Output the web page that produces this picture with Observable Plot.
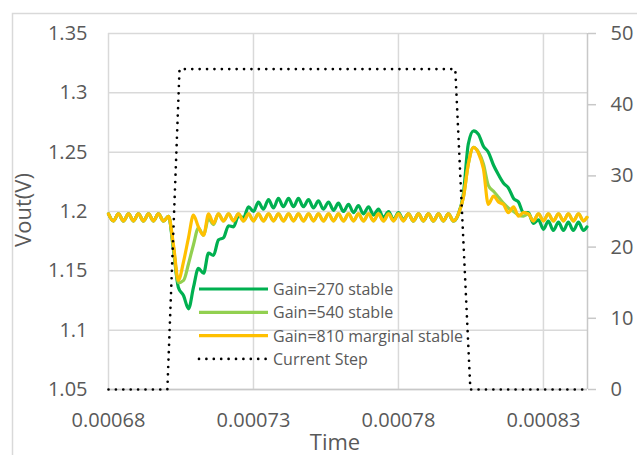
<!DOCTYPE html>
<html><head><meta charset="utf-8">
<script src="https://cdn.jsdelivr.net/npm/d3@7"></script>
<script src="https://cdn.jsdelivr.net/npm/@observablehq/plot@0.6"></script>
<style>
html,body{margin:0;padding:0;background:#fff;}
#chart{position:relative;width:637px;height:455px;overflow:hidden;}
</style></head><body><div id="chart"></div>
<script>
// time samples in microseconds
const timeUs = [680.0,681.7,683.4,685.2,686.9,688.6,690.3,692.1,693.8,695.5,697.2,699.0,700.7,702.4,704.1,705.9,707.6,709.3,711.0,712.8,
714.5,716.2,717.9,719.7,721.4,723.1,724.8,726.6,728.3,730.0,731.7,733.4,735.2,736.9,738.6,740.3,742.1,743.8,745.5,747.2,
749.0,750.7,752.4,754.1,755.9,757.6,759.3,761.0,762.8,764.5,766.2,767.9,769.7,771.4,773.1,774.8,776.6,778.3,780.0,781.7,
783.4,785.2,786.9,788.6,790.3,792.1,793.8,795.5,797.2,799.0,800.7,802.4,804.1,805.9,807.6,809.3,811.0,812.8,814.5,816.2,
817.9,819.7,821.4,823.1,824.8,826.5,828.3,830.0,831.7,833.4,835.2,836.9,838.6,840.3,842.1,843.8,845.0];

const vGain270 = [1.198,1.192,1.198,1.192,1.198,1.192,1.198,1.192,1.198,1.192,1.198,1.192,
1.196,1.168,1.136,1.129,1.118,1.136,1.152,1.148,1.165,1.163,1.176,1.178,1.188,1.187,1.196,1.195,1.204,1.200,
1.208,1.202,1.210,1.203,1.211,1.204,1.211,1.204,1.211,1.204,1.210,1.203,1.209,1.202,1.208,1.201,1.207,1.200,
1.206,1.199,1.205,1.198,1.204,1.197,1.202,1.195,1.200,1.193,1.199,1.193,
1.198,1.192,1.198,1.192,1.198,1.192,1.198,1.192,1.198,1.192,
1.198,1.215,1.257,1.268,1.265,1.255,1.250,1.239,1.231,1.224,1.220,1.211,1.208,1.199,1.199,1.190,
1.193,1.185,1.192,1.184,1.191,1.184,1.191,1.184,1.191,1.184,1.187];

const vGain540 = [1.198,1.192,1.198,1.192,1.198,1.192,1.198,1.192,1.198,1.192,1.198,1.192,
1.196,1.170,1.140,1.142,1.156,1.172,1.186,1.180,1.194,1.189,
1.198,1.192,1.198,1.192,1.198,1.192,1.198,1.192,1.198,1.192,1.198,1.192,1.198,1.192,1.198,1.192,
1.198,1.192,1.198,1.192,1.198,1.192,1.198,1.192,1.198,1.192,1.198,1.192,1.198,1.192,1.198,1.192,
1.198,1.192,1.198,1.192,1.198,1.192,1.198,1.192,1.198,1.192,1.198,1.192,1.198,1.192,1.198,1.192,
1.198,1.212,1.240,1.254,1.250,1.240,1.222,1.217,1.212,1.207,1.203,1.200,1.197,1.196,1.198,1.192,
1.198,1.192,1.198,1.192,1.198,1.192,1.198,1.192,1.198,1.192,1.195];

const vGain810 = [1.198,1.192,1.198,1.192,1.198,1.192,1.198,1.192,1.198,1.192,1.198,1.192,
1.196,1.172,1.142,1.158,1.178,1.197,1.187,1.180,1.198,1.190,
1.198,1.192,1.198,1.192,1.198,1.192,1.198,1.192,1.198,1.192,1.198,1.192,1.198,1.192,1.198,1.192,
1.198,1.192,1.198,1.192,1.198,1.192,1.198,1.192,1.198,1.192,1.198,1.192,1.198,1.192,1.198,1.192,
1.198,1.192,1.198,1.192,1.198,1.192,1.198,1.192,1.198,1.192,1.198,1.192,1.198,1.192,1.198,1.192,
1.198,1.212,1.240,1.254,1.249,1.236,1.206,1.213,1.208,1.206,1.199,1.204,1.196,1.199,1.198,1.192,
1.198,1.192,1.198,1.192,1.198,1.192,1.198,1.192,1.198,1.192,1.195];

const stepTimeUs = [680.0, 700.3, 704.5, 799.6, 804.8, 845.2];
const stepAmps = [0, 0, 45, 45, 0, 0];

const seriesNames = ["Gain=270 stable", "Gain=540 stable", "Gain=810 marginal stable", "Current Step"];
const seriesColors = ["#00B050", "#92D050", "#FFC000", "#000000"];

const xTicks = [0.00068, 0.00073, 0.00078, 0.00083];
const yTicks = [1.05, 1.1, 1.15, 1.2, 1.25, 1.3, 1.35];
const y2Ticks = [0, 10, 20, 30, 40, 50];
const xDomain = [0.00068, 0.0008452];
const yDomain = [1.05, 1.35];
const y2Domain = [0, 50];

const toY = d3.scaleLinear(y2Domain, yDomain);
const mk = vals => timeUs.map((t, i) => ({t: t * 1e-6, v: vals[i]}));
const stepData = stepTimeUs.map((t, i) => ({t: t * 1e-6, v: toY(stepAmps[i])}));
const gridStyle = {stroke: "#d9d9d9", strokeOpacity: 1, strokeWidth: 1.5};

const plot = Plot.plot({
  width: 637, height: 455,
  marginLeft: 108, marginRight: 50, marginTop: 33, marginBottom: 66,
  style: {fontFamily: "'Open Sans', sans-serif", fontSize: "20px", color: "#595959", background: "#fff"},
  x: {domain: xDomain},
  y: {domain: yDomain},
  marks: [
    Plot.gridY(yTicks, gridStyle),
    Plot.gridX(xTicks, gridStyle),
    Plot.ruleY([yDomain[0]], {stroke: "#c8c8c8", strokeWidth: 1.5}),
    Plot.ruleX([xDomain[1]], {stroke: "#c8c8c8", strokeWidth: 1.5}),
    Plot.axisY(yTicks, {anchor: "left", tickSize: 0, tickPadding: 21, label: null, tickFormat: d => String(+d.toFixed(2))}),
    Plot.axisY(y2Ticks.map(toY), {anchor: "right", tickSize: 8, tickPadding: 15, stroke: "#c8c8c8", strokeWidth: 1.5, label: null, tickFormat: d => String(Math.round(toY.invert(d)))}),
    Plot.axisX(xTicks, {anchor: "bottom", tickSize: 0, tickPadding: 23, label: null, tickFormat: d => d.toFixed(5)}),
    Plot.line(mk(vGain270), {x: "t", y: "v", stroke: seriesColors[0], strokeWidth: 3.2, curve: "monotone-x"}),
    Plot.line(mk(vGain540), {x: "t", y: "v", stroke: seriesColors[1], strokeWidth: 3.2, curve: "monotone-x"}),
    Plot.line(mk(vGain810), {x: "t", y: "v", stroke: seriesColors[2], strokeWidth: 3.2, curve: "monotone-x"}),
    Plot.line(stepData, {x: "t", y: "v", stroke: seriesColors[3], strokeWidth: 2.7, strokeDasharray: "0,7.4", strokeLinecap: "round"})
  ]
});

const svg = d3.select(plot);
// chart border
svg.append("path").attr("d", "M12.5,455V13.5H637").attr("fill", "none").attr("stroke", "#d9d9d9").attr("stroke-width", 1.5);
// axis titles
svg.append("text").text("Vout(V)").attr("transform", "translate(22,210) rotate(-90)")
  .attr("text-anchor", "middle").attr("dominant-baseline", "central").attr("font-size", 22).attr("fill", "#595959");
svg.append("text").text("Time").attr("x", 335).attr("y", 441)
  .attr("text-anchor", "middle").attr("dominant-baseline", "central").attr("font-size", 22).attr("fill", "#595959");
// legend
const lg = svg.append("g").attr("font-size", 16).attr("fill", "#595959").attr("text-anchor", "start");
seriesNames.forEach((name, i) => {
  const yy = 289 + i * 23.3;
  const ln = lg.append("line").attr("x1", 199).attr("x2", 268).attr("y1", yy).attr("y2", yy)
    .attr("stroke", seriesColors[i]).attr("stroke-width", i === 3 ? 2.7 : 3.2);
  if (i === 3) ln.attr("stroke-dasharray", "0,7.4").attr("stroke-linecap", "round");
  lg.append("text").text(name).attr("x", 273).attr("y", yy).attr("text-anchor", "start").attr("dominant-baseline", "central");
});
document.getElementById("chart").appendChild(plot);
</script></body></html>
